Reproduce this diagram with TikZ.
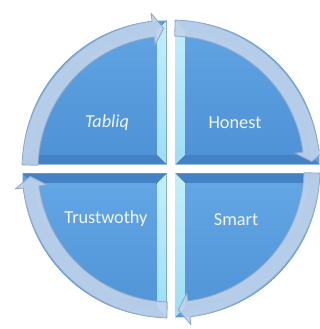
\documentclass[tikz,border=0pt]{standalone}
\usepackage{fontspec}
\setmainfont{Carlito}

\definecolor{arcblue}{HTML}{5A9EDE}
\definecolor{edgedark}{HTML}{4482C6}
\definecolor{edgelight}{HTML}{9EDDF6}
\definecolor{edgepale}{HTML}{C4EEFB}
\definecolor{facetop}{HTML}{62A6E4}
\definecolor{facebot}{HTML}{4F92D6}
\definecolor{ringfill}{HTML}{C0D3EB}
\definecolor{ringline}{HTML}{8FA9CB}
\definecolor{labelwhite}{HTML}{F2F6FB}

\begin{document}
\begin{tikzpicture}[x=0.025cm,y=0.025cm,
  arcface/.style={fill=arcblue},
  darkedge/.style={fill=edgedark},
  lightedge/.style={top color=edgepale, bottom color=edgelight},
  face/.style={top color=facetop, bottom color=facebot},
  ring/.style={fill=ringfill, fill opacity=0.9, draw=ringline, line width=0.6pt, line join=round},
  label/.style={text=labelwhite, font=\fontsize{13}{15}\selectfont}]

\useasboundingbox (0,0) rectangle (320,329);

% Quadrant top right
\begin{scope}[shift={(175.5,164.5)}]
\fill[arcface] (0,0) -- (144,0) arc[start angle=0,end angle=90,radius=144] -- cycle;
\fill[darkedge] (0,0) -- (144,0) -- (133.5,10) -- (10,10) -- cycle;
\fill[lightedge] (0,0) -- (0,144) -- (10,133.5) -- (10,10) -- cycle;
\begin{scope}
\clip (0,0) circle[radius=134];
\fill[face] (10,10) rectangle (150,150);
\end{scope}
\end{scope}

% Quadrant top left
\begin{scope}[shift={(166.5,164.5)},xscale=-1]
\fill[arcface] (0,0) -- (144,0) arc[start angle=0,end angle=90,radius=144] -- cycle;
\fill[darkedge] (0,0) -- (144,0) -- (133.5,10) -- (10,10) -- cycle;
\fill[lightedge] (0,0) -- (0,144) -- (10,133.5) -- (10,10) -- cycle;
\begin{scope}
\clip (0,0) circle[radius=134];
\fill[face] (10,10) rectangle (150,150);
\end{scope}
\end{scope}

% Quadrant bottom left
\begin{scope}[shift={(166.5,155.5)},xscale=-1,yscale=-1]
\fill[arcface] (0,0) -- (144,0) arc[start angle=0,end angle=90,radius=144] -- cycle;
\fill[darkedge] (0,0) -- (144,0) -- (133.5,10) -- (10,10) -- cycle;
\fill[lightedge] (0,0) -- (0,144) -- (10,133.5) -- (10,10) -- cycle;
\begin{scope}
\clip (0,0) circle[radius=134];
\fill[face] (10,10) rectangle (150,150);
\end{scope}
\end{scope}

% Quadrant bottom right
\begin{scope}[shift={(175.5,155.5)},yscale=-1]
\fill[arcface] (0,0) -- (144,0) arc[start angle=0,end angle=90,radius=144] -- cycle;
\fill[darkedge] (0,0) -- (144,0) -- (133.5,10) -- (10,10) -- cycle;
\fill[lightedge] (0,0) -- (0,144) -- (10,133.5) -- (10,10) -- cycle;
\begin{scope}
\clip (0,0) circle[radius=134];
\fill[face] (10,10) rectangle (150,150);
\end{scope}
\end{scope}

% Circular arrows
\begin{scope}[shift={(171,160)}]
\filldraw[ring] (178.4:149) arc[start angle=178.4,end angle=97.3,radius=149] -- (97.3:157) -- (93:141) -- (97.3:125) -- (97.3:133) arc[start angle=97.3,end angle=178.4,radius=133] -- cycle;
\filldraw[ring] (88.4:149) arc[start angle=88.4,end angle=7.3,radius=149] -- (7.3:157) -- (3:141) -- (7.3:125) -- (7.3:133) arc[start angle=7.3,end angle=88.4,radius=133] -- cycle;
\filldraw[ring] (-1.6:149) arc[start angle=-1.6,end angle=-82.7,radius=149] -- (-82.7:157) -- (-87:141) -- (-82.7:125) -- (-82.7:133) arc[start angle=-82.7,end angle=-1.6,radius=133] -- cycle;
\filldraw[ring] (-91.6:149) arc[start angle=-91.6,end angle=-172.7,radius=149] -- (-172.7:157) -- (-177:141) -- (-172.7:125) -- (-172.7:133) arc[start angle=-172.7,end angle=-91.6,radius=133] -- cycle;
\end{scope}

% Labels
\node[label] (tabliq) at (107,206) {\itshape Tabliq};
\node[label] (honest) at (235,206) {Honest};
\node[label] (trustwothy) at (106,110) {Trustwothy};
\node[label] (smart) at (236,109) {Smart};

\end{tikzpicture}
\end{document}
